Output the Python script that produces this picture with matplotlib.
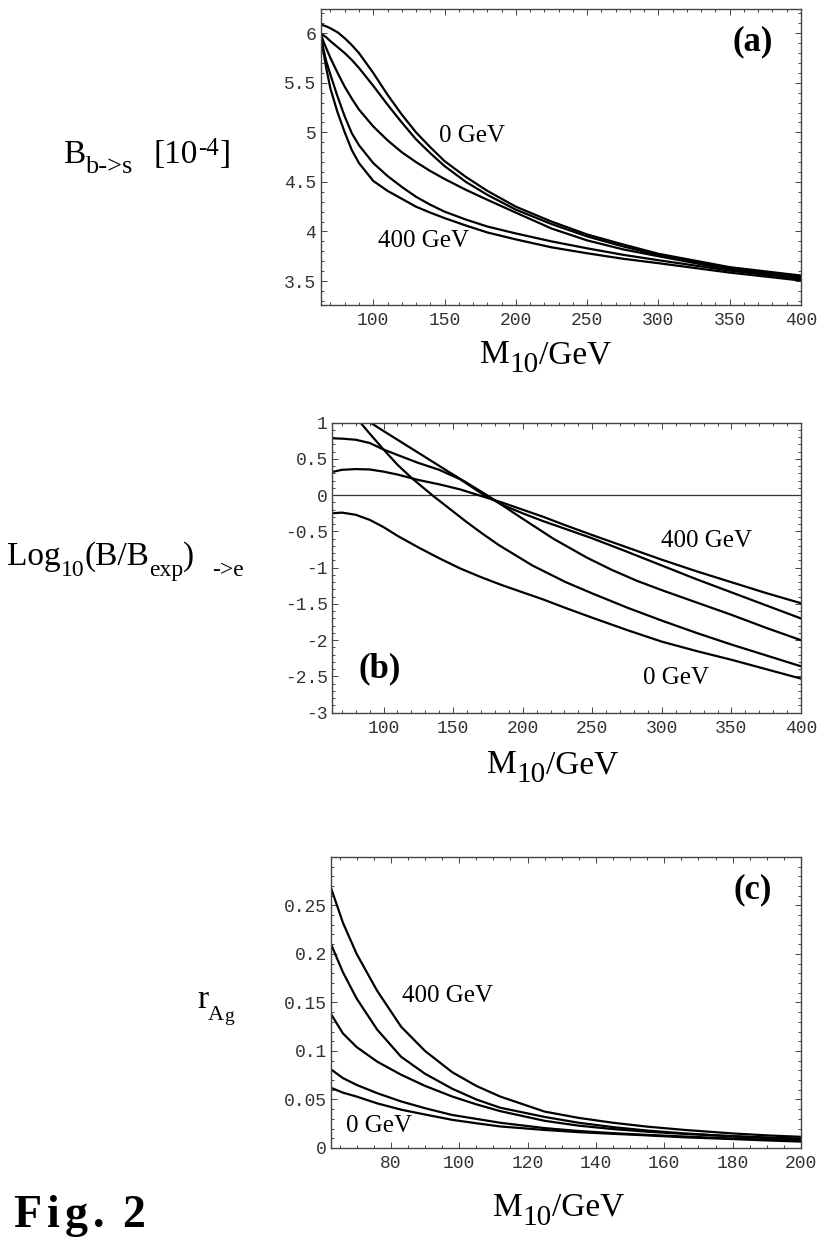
import numpy as np
import matplotlib
matplotlib.use("Agg")
import matplotlib.pyplot as plt
from matplotlib.ticker import MultipleLocator, FuncFormatter
from matplotlib.transforms import IdentityTransform

# ------------------------------
# Data
# ------------------------------
# (a) B(b->s) in 1e-4, five curves from 0 GeV (top) to 400 GeV (bottom)
a_x = [63, 65, 67, 70, 75, 80, 85, 90, 100, 110, 120, 130, 140, 150, 165, 180,
       200, 225, 250, 275, 300, 350, 400]
a_0 = [6.09, 6.08, 6.07, 6.05, 6.01, 5.95, 5.88, 5.80, 5.60, 5.38, 5.18, 5.00,
       4.85, 4.71, 4.55, 4.41, 4.25, 4.10, 3.97, 3.87, 3.775, 3.64, 3.555]
a_1 = [6.00, 5.98, 5.96, 5.92, 5.86, 5.80, 5.73, 5.65, 5.47, 5.28, 5.10, 4.93,
       4.79, 4.66, 4.50, 4.37, 4.22, 4.075, 3.95, 3.85, 3.762, 3.63, 3.545]
a_2 = [6.00, 5.92, 5.85, 5.75, 5.60, 5.46, 5.34, 5.23, 5.06, 4.92, 4.80, 4.70,
       4.61, 4.53, 4.42, 4.32, 4.19, 4.03, 3.91, 3.82, 3.75, 3.615, 3.53]
a_3 = [6.00, 5.84, 5.72, 5.58, 5.36, 5.16, 4.99, 4.87, 4.69, 4.56, 4.45, 4.35,
       4.27, 4.20, 4.12, 4.05, 3.98, 3.90, 3.83, 3.765, 3.71, 3.605, 3.52]
a_4 = [6.00, 5.82, 5.65, 5.44, 5.20, 5.00, 4.82, 4.69, 4.51, 4.41, 4.33, 4.25,
       4.19, 4.135, 4.06, 3.99, 3.92, 3.84, 3.78, 3.725, 3.68, 3.585, 3.505]

# (b) Log10(B/Bexp) for mu->e
b_x = [63, 70, 80, 90, 100, 110, 125, 140, 155, 170, 185, 200, 215, 230, 250,
       275, 300, 325, 350, 375, 400]
b_0 = [-0.25, -0.24, -0.27, -0.34, -0.44, -0.56, -0.72, -0.87, -1.01, -1.13,
       -1.24, -1.34, -1.44, -1.55, -1.69, -1.86, -2.02, -2.15, -2.27, -2.40, -2.53]
b_1 = [0.32, 0.35, 0.36, 0.355, 0.325, 0.285, 0.21, 0.15, 0.08, -0.01, -0.10,
       -0.20, -0.30, -0.41, -0.55, -0.72, -0.89, -1.05, -1.20, -1.35, -1.49]
b_2 = [0.785, 0.78, 0.765, 0.72, 0.63, 0.555, 0.445, 0.35, 0.22, 0.03, -0.13,
       -0.25, -0.36, -0.46, -0.595, -0.78, -0.97, -1.16, -1.34, -1.52, -1.70]
b_3x = [83.4, 90, 100, 110, 120, 135, 147, 159, 171, 183, 207, 231, 250, 275,
        300, 325, 350, 375, 400]
b_3 = [1.0, 0.85, 0.63, 0.42, 0.24, 0.0, -0.18, -0.36, -0.53, -0.69, -0.97,
       -1.20, -1.355, -1.55, -1.73, -1.90, -2.06, -2.21, -2.36]
b_4x = [90.6, 100, 110, 120, 135, 147, 159, 171, 176, 198, 222, 246, 264, 282,
        300, 325, 350, 375, 400]
b_4 = [1.0, 0.885, 0.765, 0.645, 0.465, 0.32, 0.18, 0.04, -0.02, -0.30, -0.60,
       -0.86, -1.03, -1.18, -1.31, -1.48, -1.65, -1.83, -2.00]

# (c) r_Ag
c_x = [62.5, 66, 70, 76, 83, 90, 98, 105, 112, 125, 135, 145, 155, 166, 180,
       190, 200]
c_4 = [0.268, 0.232, 0.200, 0.162, 0.125, 0.100, 0.078, 0.064, 0.053, 0.0375,
       0.031, 0.026, 0.022, 0.0186, 0.015, 0.013, 0.0115]
c_3 = [0.210, 0.181, 0.154, 0.122, 0.094, 0.0765, 0.061, 0.050, 0.0415, 0.032,
       0.026, 0.0215, 0.018, 0.015, 0.012, 0.0105, 0.0095]
c_2 = [0.138, 0.118, 0.104, 0.089, 0.0755, 0.064, 0.053, 0.045, 0.038, 0.028,
       0.023, 0.0195, 0.0168, 0.0145, 0.0122, 0.0108, 0.0093]
c_1 = [0.081, 0.072, 0.065, 0.0565, 0.048, 0.041, 0.034, 0.030, 0.026, 0.0205,
       0.0175, 0.0153, 0.0135, 0.0118, 0.0098, 0.0087, 0.0076]
c_0 = [0.062, 0.057, 0.053, 0.046, 0.0395, 0.0345, 0.029, 0.0255, 0.0222, 0.0186,
       0.0163, 0.0146, 0.013, 0.011, 0.0092, 0.0078, 0.0066]

W, H = 817, 1246
SERIF = 'Liberation Serif'
MONO = 'Liberation Mono'
FRAME = '#444444'

fig = plt.figure(figsize=(W / 100, H / 100), dpi=100)


def fmt(v, pos):
    v = round(v, 6) + 0.0
    return '%g' % v


def style(ax, xlim, ylim, xmaj, xmin, ymaj, ymin):
    ax.set_xlim(*xlim)
    ax.set_ylim(*ylim)
    ax.xaxis.set_major_locator(MultipleLocator(xmaj))
    ax.xaxis.set_minor_locator(MultipleLocator(xmin))
    ax.yaxis.set_major_locator(MultipleLocator(ymaj))
    ax.yaxis.set_minor_locator(MultipleLocator(ymin))
    ax.xaxis.set_major_formatter(FuncFormatter(fmt))
    ax.yaxis.set_major_formatter(FuncFormatter(fmt))
    ax.tick_params(which='both', direction='in', top=True, right=True,
                   color=FRAME, width=0.7)
    ax.tick_params(which='major', length=4, labelsize=13, labelcolor='#333333')
    ax.tick_params(which='minor', length=2)
    ax.tick_params(axis='x', pad=5)
    ax.tick_params(axis='y', pad=3)
    for lab in ax.get_xticklabels() + ax.get_yticklabels():
        lab.set_family(MONO)
    for sp in ax.spines.values():
        sp.set_color(FRAME)
        sp.set_linewidth(1.0)


def axes_px(left, top, right, bottom):
    return fig.add_axes([left / W, 1 - bottom / H, (right - left) / W, (bottom - top) / H])


def note(ax, x, y, s, size=18, weight='normal', ha='left'):
    ax.text(x, y, s, transform=ax.transAxes, family=SERIF, fontsize=size,
            fontweight=weight, ha=ha, va='baseline')


def chain(x, y, pieces):
    # pieces: (text, size, drop in px, gap before in px, weight)
    r = fig.canvas.get_renderer()
    for s, size, dy, gap, weight in pieces:
        x += gap
        t = fig.text(x, H - (y + dy), s, transform=IdentityTransform(),
                     family=SERIF, fontsize=size, fontweight=weight,
                     ha='left', va='baseline')
        x = t.get_window_extent(r).x1


line_kw = dict(color='black', lw=1.6, solid_joinstyle='round')

# ------------------------------
# (a)
# ------------------------------
ax1 = axes_px(320.5, 9.3, 801, 305)
for ys in (a_0, a_1, a_2, a_3, a_4):
    ax1.plot(a_x, ys, **line_kw)
style(ax1, (63, 400), (3.258, 6.242), 50, 10, 0.5, 0.1)
note(ax1, 0.2475, 0.551, '0 GeV')
note(ax1, 0.119, 0.197, '400 GeV')
note(ax1, 0.942, 0.862, '(a)', size=25, weight='bold', ha='right')

# ------------------------------
# (b)
# ------------------------------
ax2 = axes_px(332.1, 422.7, 801, 712.7)
ax2.axhline(0, color='#333333', lw=0.9)
for ys in (b_0, b_1, b_2):
    ax2.plot(b_x, ys, **line_kw)
ax2.plot(b_3x, b_3, **line_kw)
ax2.plot(b_4x, b_4, **line_kw)
style(ax2, (63, 400), (-3, 1), 50, 10, 0.5, 0.1)
note(ax2, 0.701, 0.571, '400 GeV')
note(ax2, 0.663, 0.099, '0 GeV')
note(ax2, 0.057, 0.123, '(b)', size=25, weight='bold')

# ------------------------------
# (c)
# ------------------------------
ax3 = axes_px(331, 857.3, 801, 1148)
for ys in (c_0, c_1, c_2, c_3, c_4):
    ax3.plot(c_x, ys, **line_kw)
style(ax3, (62.5, 200), (0, 0.2995), 20, 5, 0.05, 0.01)
note(ax3, 0.151, 0.503, '400 GeV')
note(ax3, 0.0326, 0.056, '0 GeV')
note(ax3, 0.937, 0.86, '(c)', size=25, weight='bold', ha='right')

# ------------------------------
# Axis labels
# ------------------------------
for mx, my in ((480, 363), (487, 773), (493, 1216)):
    chain(mx, my, [('M', 24, 0, 0, 'normal'),
                   ('10', 21, 9, 0, 'normal'),
                   ('/GeV', 24, 0, 0, 'normal')])

chain(63, 163, [('B', 24, 0, 0, 'normal'),
                ('b->s', 19, 10, 0, 'normal'),
                ('[10', 24, 0, 21, 'normal'),
                ('-4', 18, -8, 0, 'normal'),
                (']', 24, 0, 1, 'normal')])

chain(7, 565, [('Log', 24, 0, 0, 'normal'),
               ('10', 17, 11, 0, 'normal'),
               ('(B/B', 24, 0, 0, 'normal'),
               ('exp', 17, 11, 0, 'normal'),
               (')', 24, 0, 0, 'normal'),
               ('->e', 17, 11, 18, 'normal')])

chain(197, 1008, [('r', 24, 0, 0, 'normal'),
                  ('A', 16, 12, 0, 'normal'),
                  ('g', 14, 13, 0, 'normal')])

chain(13, 1227, [('F', 33, 0, 0, 'bold'),
                 ('i', 33, 0, 6, 'bold'),
                 ('g', 33, 0, 5, 'bold'),
                 ('.', 33, 0, 5, 'bold'),
                 ('2', 33, 0, 18, 'bold')])

fig.savefig('out.png', dpi=100)
